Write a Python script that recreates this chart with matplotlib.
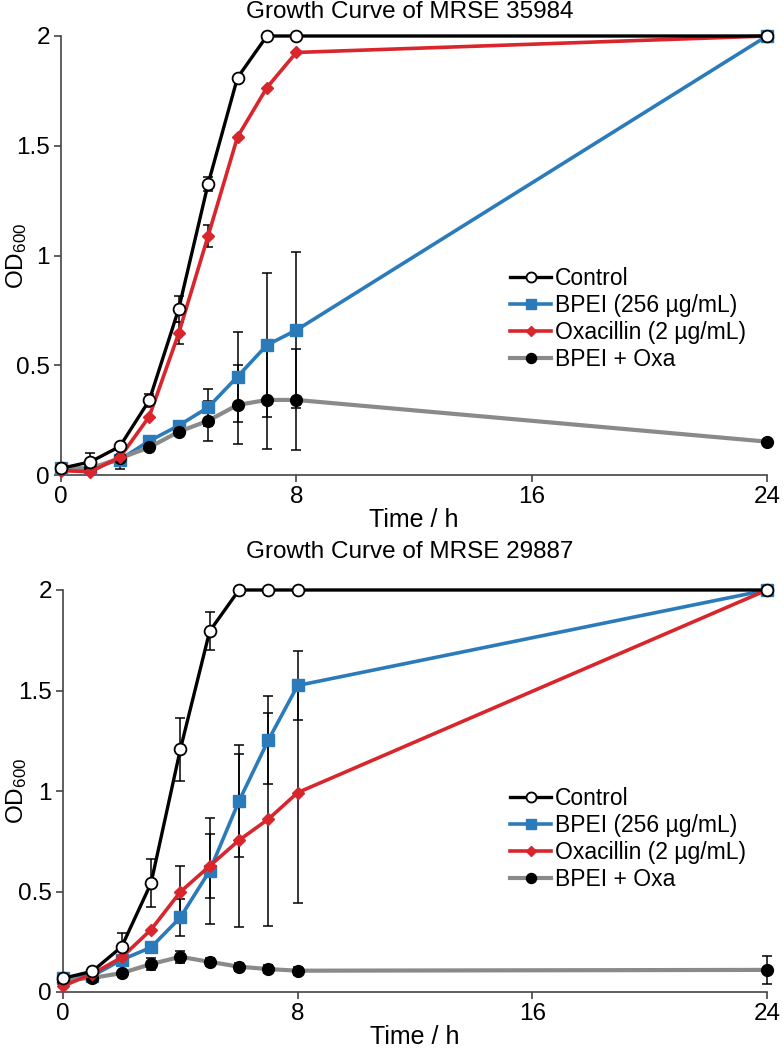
import matplotlib
matplotlib.use("Agg")
import matplotlib.pyplot as plt

plt.rcParams['font.family'] = ['Liberation Sans', 'DejaVu Sans']
plt.rcParams['mathtext.default'] = 'regular'

# ---------------- data ----------------
time_h = [0, 1, 2, 3, 4, 5, 6, 7, 8, 24]
xticks = [0, 8, 16, 24]
yticks = [0, 0.5, 1, 1.5, 2]
ytick_labels = ['0', '0.5', '1', '1.5', '2']
series_names = ['Control', 'BPEI (256 µg/mL)', 'Oxacillin (2 µg/mL)', 'BPEI + Oxa']
titles = ['Growth Curve of MRSE 35984', 'Growth Curve of MRSE 29887']

# MRSE 35984
a_control = [0.03, 0.06, 0.13, 0.34, 0.756, 1.326, 1.81, 2.0, 2.0, 2.0]
a_control_err = [0.0, 0.04, 0.0, 0.03, 0.06, 0.03, 0.0, 0.0, 0.0, 0.0]
a_bpei = [0.03, 0.03, 0.07, 0.155, 0.225, 0.308, 0.448, 0.592, 0.66, 2.0]
a_bpei_err = [0.0, 0.0, 0.0, 0.0, 0.0, 0.085, 0.205, 0.33, 0.355, 0.0]
a_oxa = [0.02, 0.015, 0.08, 0.266, 0.645, 1.089, 1.54, 1.765, 1.925, 2.0]
a_oxa_err = [0.0, 0.0, 0.0, 0.0, 0.05, 0.05, 0.0, 0.0, 0.0, 0.0]
a_combo = [0.03, 0.03, 0.076, 0.126, 0.197, 0.247, 0.319, 0.342, 0.342, 0.152]
a_combo_err = [0.0, 0.0, 0.05, 0.0, 0.0, 0.09, 0.18, 0.225, 0.23, 0.0]

# MRSE 29887
b_control = [0.068, 0.103, 0.225, 0.541, 1.207, 1.795, 2.0, 2.0, 2.0, 2.0]
b_control_err = [0.0, 0.0, 0.07, 0.12, 0.155, 0.095, 0.0, 0.0, 0.0, 0.0]
b_bpei = [0.07, 0.08, 0.16, 0.222, 0.371, 0.603, 0.95, 1.253, 1.525, 2.0]
b_bpei_err = [0.0, 0.0, 0.0, 0.0, 0.09, 0.265, 0.28, 0.22, 0.17, 0.0]
b_oxa = [0.03, 0.09, 0.172, 0.31, 0.498, 0.627, 0.755, 0.86, 0.992, 2.0]
b_oxa_err = [0.0, 0.0, 0.0, 0.0, 0.13, 0.16, 0.43, 0.53, 0.55, 0.0]
b_combo = [0.06, 0.07, 0.094, 0.139, 0.175, 0.15, 0.126, 0.114, 0.106, 0.11]
b_combo_err = [0.0, 0.0, 0.0, 0.03, 0.03, 0.02, 0.02, 0.02, 0.02, 0.07]

panels = [
    (a_control, a_control_err, a_bpei, a_bpei_err, a_oxa, a_oxa_err, a_combo, a_combo_err),
    (b_control, b_control_err, b_bpei, b_bpei_err, b_oxa, b_oxa_err, b_combo, b_combo_err),
]

# ---------------- style ----------------
W, H = 784, 1050
fig = plt.figure(figsize=(W / 100, H / 100), dpi=100)

axes_px = [(61, 767, 36, 475), (63, 767, 590, 992)]   # left, right, top, bottom
title_y = [12, 552]
legend_center_y = [319, 839]

blue = '#2b7bba'
red = '#d8262c'
grey = '#8a8a8a'
spine_col = '#444444'

for i, (ctl, ctl_e, bp, bp_e, ox, ox_e, cb, cb_e) in enumerate(panels):
    l, r, t, b = axes_px[i]
    ax = fig.add_axes([l / W, 1 - b / H, (r - l) / W, (b - t) / H])
    ax.set_xlim(0, 24)
    ax.set_ylim(0, 2)

    eb_kw = dict(fmt='none', ecolor='black', elinewidth=1.1, capsize=3.5, capthick=1.1, zorder=1, clip_on=False)
    for vals, errs in ((bp, bp_e), (cb, cb_e), (ox, ox_e), (ctl, ctl_e)):
        e = ax.errorbar(time_h, vals, yerr=errs, **eb_kw)
        for art in e.lines[1] + e.lines[2]:
            art.set_clip_on(False)

    ax.plot(time_h, bp, color=blue, lw=2.6, marker='s', ms=8, mfc=blue, mec=blue,
            label=series_names[1], zorder=3, clip_on=False)
    ax.plot(time_h, cb, color=grey, lw=3.0, marker='o', ms=8.5, mfc='black', mec='black',
            label=series_names[3], zorder=4, clip_on=False)
    ax.plot(time_h, ox, color=red, lw=2.6, marker='D', ms=6.5, mfc=red, mec=red,
            label=series_names[2], zorder=5, clip_on=False)
    ax.plot(time_h, ctl, color='black', lw=2.4, marker='o', ms=8.5, mfc='white', mec='black',
            mew=1.3, label=series_names[0], zorder=6, clip_on=False)

    for s in ('top', 'right'):
        ax.spines[s].set_visible(False)
    for s in ('left', 'bottom'):
        ax.spines[s].set_color(spine_col)
        ax.spines[s].set_linewidth(1.2)

    ax.set_xticks(xticks)
    ax.set_xticklabels([str(v) for v in xticks])
    ax.set_yticks(yticks)
    ax.set_yticklabels(ytick_labels)
    ax.tick_params(axis='both', direction='out', length=5, width=1.2, color=spine_col,
                   labelsize=17.5, pad=3)
    ax.set_xlabel('Time / h', fontsize=18, labelpad=0)
    ax.set_ylabel('OD$_{600}$', fontsize=17.5)
    ax.yaxis.set_label_coords((29 - l) / (r - l), 0.5)

    fig.text(410 / W, 1 - title_y[i] / H, titles[i], ha='center', va='center', fontsize=17.5)

    handles, labels = ax.get_legend_handles_labels()
    order = [labels.index(n) for n in series_names]
    ax.legend([handles[k] for k in order], [labels[k] for k in order],
              loc='center left', frameon=False, fontsize=16.5,
              bbox_to_anchor=((510 - l) / (r - l), (b - legend_center_y[i]) / (b - t)),
              borderpad=0, borderaxespad=0, handlelength=1.8, handletextpad=0.15,
              labelspacing=0.18, markerscale=0.85)

fig.savefig('out.png', dpi=100)
